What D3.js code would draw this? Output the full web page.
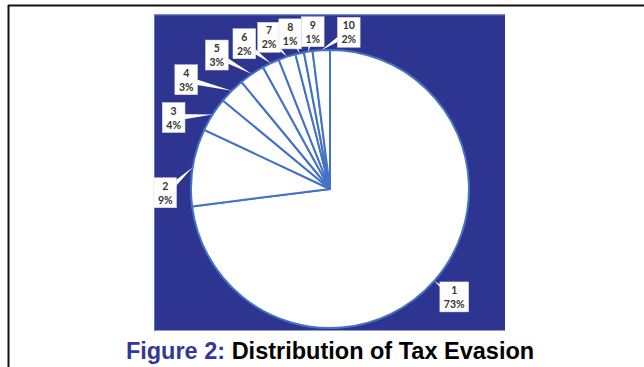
<!DOCTYPE html>
<html>
<head>
<meta charset="utf-8">
<script src="https://cdn.jsdelivr.net/npm/d3@7"></script>
<style>
  html, body { margin: 0; padding: 0; background: #ffffff; }
  svg { display: block; }
</style>
</head>
<body>
<svg id="chart" width="644" height="367"></svg>
<script>
// Tax evasion shares by group
const categories = ["1", "2", "3", "4", "5", "6", "7", "8", "9", "10"];
const shares = [73, 9, 4, 3, 3, 2, 2, 1, 1, 2];

// Callout box offsets (px) from the point on the rim at each slice's mid-angle
const calloutOffsets = [
  [20, 16], [-27.5, 25.5], [-39, 3], [-45.5, -11], [-35, -19],
  [-26.5, -19.5], [-18, -19.5], [-9.5, -19.5], [4.5, -20], [27.5, -18]
];

const svg = d3.select("#chart");

// Page frame lines
svg.append("line").attr("x1", 8).attr("x2", 644).attr("y1", 5.5).attr("y2", 5.5)
  .attr("stroke", "#111").attr("stroke-width", 2);
svg.append("line").attr("x1", 8.5).attr("x2", 8.5).attr("y1", 5).attr("y2", 367)
  .attr("stroke", "#111").attr("stroke-width", 2);

// Chart area
const area = { x: 154, y: 14.5, w: 351, h: 316 };
svg.append("rect").attr("x", area.x).attr("y", area.y)
  .attr("width", area.w).attr("height", area.h).attr("fill", "#2E3590");
svg.append("path")
  .attr("d", `M${area.x + 0.5},${area.y + area.h} V${area.y + 0.5} H${area.x + area.w}`)
  .attr("fill", "none").attr("stroke", "#4F78C8").attr("stroke-width", 1);

const cx = 330, cy = 189, r = 139;
const g = svg.append("g").attr("transform", `translate(${cx},${cy})`);

const pie = d3.pie().sort(null).value(d => d.v)
  .startAngle(0).endAngle(2 * Math.PI);
const arcs = pie(categories.map((c, i) => ({ c, v: shares[i], i })));
const arc = d3.arc().innerRadius(0).outerRadius(r);

g.selectAll("path.slice").data(arcs).join("path")
  .attr("class", "slice")
  .attr("d", arc)
  .attr("fill", "#ffffff")
  .attr("stroke", "#4472C4")
  .attr("stroke-width", 2)
  .attr("stroke-linejoin", "round");

// Data callouts
const labels = g.selectAll("g.callout").data(arcs).join("g").attr("class", "callout");

labels.each(function (d) {
  const sel = d3.select(this);
  const mid = (d.startAngle + d.endAngle) / 2;
  const px = r * Math.sin(mid), py = -r * Math.cos(mid);
  const off = calloutOffsets[d.data.i];
  const bx = px + off[0], by = py + off[1];

  const t1 = sel.append("text").text(d.data.c);
  const t2 = sel.append("text").text(shares[d.data.i] + "%");
  sel.selectAll("text")
    .attr("x", bx)
    .attr("text-anchor", "middle")
    .attr("font-family", "Lato, 'Open Sans', sans-serif")
    .attr("font-weight", 700)
    .attr("font-size", 10.5)
    .attr("fill", "#333333");
  t1.attr("y", by - 3);
  t2.attr("y", by + 11);

  const tw = Math.max(t1.node().getComputedTextLength(), t2.node().getComputedTextLength());
  const bw = Math.max(19, tw + 8), bh = 30;

  // wedge pointing from the box to the rim
  const ang = Math.atan2(py - by, px - bx);
  const nx = -Math.sin(ang), ny = Math.cos(ang);
  const hw = 3.5;
  sel.insert("path", "text")
    .attr("d", `M${px},${py} L${bx + nx * hw},${by + ny * hw} L${bx - nx * hw},${by - ny * hw} Z`)
    .attr("fill", "#ffffff");
  sel.insert("rect", "text")
    .attr("x", bx - bw / 2).attr("y", by - bh / 2)
    .attr("width", bw).attr("height", bh)
    .attr("fill", "#ffffff")
    .attr("stroke", "#d9d9d9").attr("stroke-width", 0.5);
});

// Caption
const cap = svg.append("text")
  .attr("x", 330).attr("y", 359)
  .attr("text-anchor", "middle")
  .attr("font-family", "'Liberation Sans', Arial, sans-serif")
  .attr("font-weight", 700)
  .attr("font-size", 23.5);
cap.append("tspan").attr("fill", "#35389A").text("Figure 2: ");
cap.append("tspan").attr("fill", "#000000").text("Distribution of Tax Evasion");
</script>
</body>
</html>
